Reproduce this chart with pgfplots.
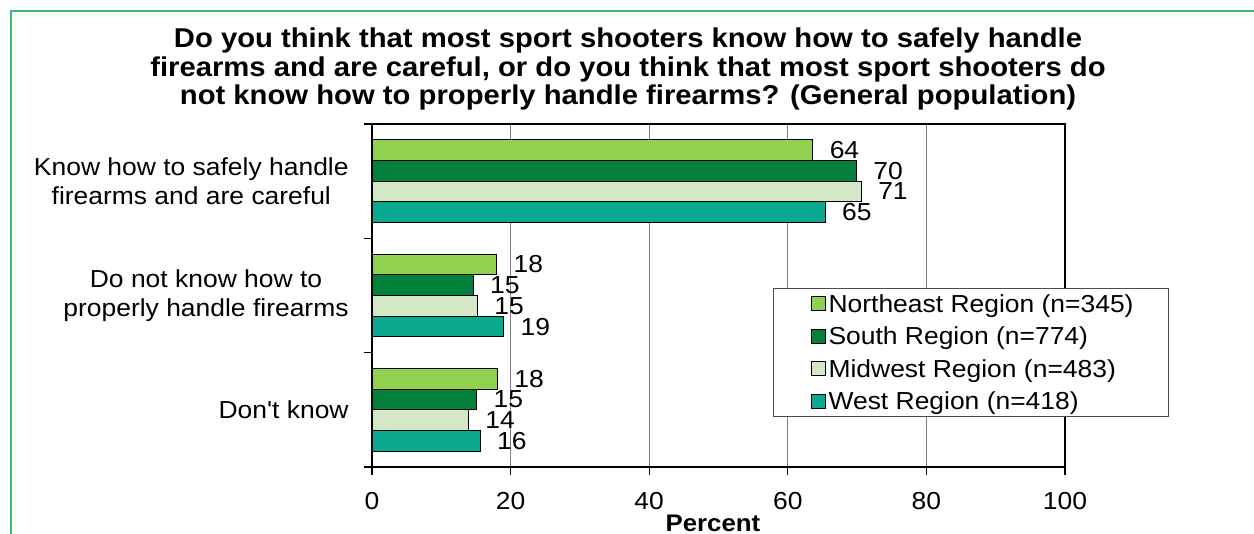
\documentclass[border=0pt]{standalone}
\usepackage{fontspec}
\setmainfont{Liberation Sans}[FakeStretch=1.075]
\newfontfamily\plainfont{Liberation Sans}[FakeStretch=1.075]
\usepackage{pgfplots}
\pgfplotsset{compat=1.18}
\definecolor{cNE}{RGB}{146,208,80}
\definecolor{cS}{RGB}{3,128,60}
\definecolor{cM}{RGB}{212,232,200}
\definecolor{cW}{RGB}{10,168,142}
\definecolor{borderg}{RGB}{60,185,110}
\newcommand{\lblfont}{\fontsize{12.3}{14.5}\selectfont}
\begin{document}
\begin{tikzpicture}
\useasboundingbox (0,0) rectangle (627pt,267pt);
\draw[color=borderg, line width=1pt] (5.5pt,0pt) -- (5.5pt,261.5pt) -- (627pt,261.5pt);
\node[anchor=north, align=center, inner sep=0pt, font=\fontsize{13.6}{14.25}\selectfont\bfseries] at (314pt,253.2pt)
 {Do you think that most sport shooters know how to safely handle\\firearms and are careful, or do you think that most sport shooters do\\not know how to properly handle firearms? (General population)};
\begin{axis}[
  at={(186pt,33.5pt)}, anchor=south west,
  scale only axis, width=346.5pt, height=171.5pt,
  xbar, bar width=0.181,
  xmin=0, xmax=100, ymin=-0.5, ymax=2.5,
  xtick={0,20,...,100}, xtick pos=bottom, ytick pos=left,
  tick align=outside, major tick length=4pt,
  tick style={black, line width=0.6pt},
  ytick={-0.5,0.5,1.5,2.5}, yticklabels={},
  extra y ticks={0,1,2},
  extra y tick labels={{\plainfont Don't know},{Do not know how to\\properly handle firearms},{Know how to safely handle\\firearms and are careful}},
  extra y tick style={tick style={draw=none}, yticklabel style={anchor=east, align=center, inner sep=0pt, font=\lblfont, xshift=-7.5pt}},
  xticklabel style={font=\lblfont, inner sep=0pt, anchor=north, yshift=-8.5pt},
  xmajorgrids=true, grid style={black!50, line width=0.5pt},
  axis line style={black, line width=1pt},
  /pgf/number format/fixed, /pgf/number format/precision=0,
  /pgf/number format/assume math mode=true,
  nodes near coords, point meta=x,
  every node near coord/.append style={anchor=west, inner sep=0pt, xshift=8.2pt, font=\lblfont},
  xlabel={Percent},
  xlabel style={font=\fontsize{12}{14}\selectfont\bfseries, at={(axis description cs:0.492,0)}, anchor=base, yshift=-32.35pt},
  legend style={at={(0.5786,0.522)}, anchor=north west, draw=black!70, line width=0.5pt, fill=white,
    inner xsep=16pt, inner ysep=1.7pt, row sep=4.45pt,
    nodes={inner sep=1.5pt, text height=8.8pt, text depth=0pt, font=\lblfont}},
  legend cell align=left,
  legend image code/.code={\path (0pt,0pt); \draw[#1, line width=0.5pt] (2.5pt,-3.5pt) rectangle (9.5pt,3.5pt);},
]
\addplot[fill=cNE, draw=black, line width=0.6pt, bar shift=0.2715] coordinates {(63.6,2) (18.0,1) (18.1,0)};
\addplot[fill=cS, draw=black, line width=0.6pt, bar shift=0.0905] coordinates {(69.9,2) (14.6,1) (15.1,0)};
\addplot[fill=cM, draw=black, line width=0.6pt, bar shift=-0.0905] coordinates {(70.6,2) (15.2,1) (13.9,0)};
\addplot[fill=cW, draw=black, line width=0.6pt, bar shift=-0.2715] coordinates {(65.4,2) (19.0,1) (15.6,0)};
\legend{Northeast Region (n=345),South Region (n=774),Midwest Region (n=483),West Region (n=418)}
\end{axis}
\end{tikzpicture}
\end{document}
